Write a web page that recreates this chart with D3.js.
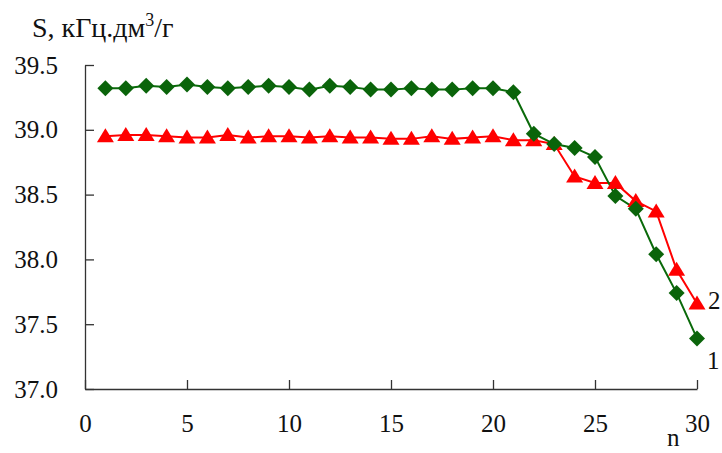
<!DOCTYPE html>
<html>
<head>
<meta charset="utf-8">
<script src="https://cdn.jsdelivr.net/npm/d3@7"></script>
<style>
  body { margin: 0; background: #fff; }
  .axis path, .axis line { stroke: #333; stroke-width: 1.3; }
</style>
</head>
<body>
<div id="chart"></div>
<script>
(function () {
    // data
    var nValues = d3.range(1, 31);
    var series1 = [39.32, 39.32, 39.34, 39.33, 39.35, 39.33, 39.32, 39.33, 39.34, 39.33,
                   39.31, 39.34, 39.33, 39.31, 39.31, 39.32, 39.31, 39.31, 39.32, 39.32,
                   39.29, 38.97, 38.89, 38.86, 38.79, 38.49, 38.39, 38.04, 37.74, 37.39];
    var series2 = [38.95, 38.96, 38.96, 38.95, 38.94, 38.94, 38.96, 38.94, 38.95, 38.95,
                   38.94, 38.95, 38.94, 38.94, 38.93, 38.93, 38.95, 38.93, 38.94, 38.95,
                   38.92, 38.92, 38.89, 38.64, 38.59, 38.59, 38.45, 38.37, 37.92, 37.66];
    var xTicks = [0, 5, 10, 15, 20, 25, 30];
    var yTicks = [37.0, 37.5, 38.0, 38.5, 39.0, 39.5];

    var FONT = "'Liberation Serif', 'Times New Roman', serif";

    var W = 722, H = 453;
    var margin = {top: 65, right: 25, bottom: 64, left: 85},
        width = W - margin.left - margin.right,
        height = H - margin.top - margin.bottom;

    var x = d3.scaleLinear().domain([0, 30]).range([0, width]);
    var y = d3.scaleLinear().domain([37, 39.5]).range([height, 0]);

    var svg = d3.select("#chart").append("svg")
        .attr("width", W)
        .attr("height", H)
        .style("font-family", FONT);

    var g = svg.append("g")
        .attr("transform", "translate(" + margin.left + "," + margin.top + ")");

    // x axis
    g.append("g")
        .attr("class", "axis")
        .attr("transform", "translate(0," + height + ")")
        .call(d3.axisBottom(x)
            .tickValues(xTicks)
            .tickSizeInner(-9)
            .tickSizeOuter(0)
            .tickPadding(25)
            .tickFormat(d3.format("d")))
        .attr("font-family", null)
        .selectAll("text")
        .style("font-family", FONT)
        .style("font-size", "25px")
        .attr("fill", "#111");

    // y axis
    g.append("g")
        .attr("class", "axis")
        .call(d3.axisLeft(y)
            .tickValues(yTicks)
            .tickSizeInner(-9)
            .tickSizeOuter(0)
            .tickPadding(27)
            .tickFormat(d3.format(".1f")))
        .attr("font-family", null)
        .selectAll("text")
        .style("font-family", FONT)
        .style("font-size", "25px")
        .attr("fill", "#111");

    var line = d3.line()
        .x(function (d, i) { return x(nValues[i]); })
        .y(function (d) { return y(d); });

    // series 2 (red triangles)
    g.append("path")
        .datum(series2)
        .attr("fill", "none")
        .attr("stroke", "#ff0000")
        .attr("stroke-width", 2)
        .attr("d", line);

    // series 1 (green diamonds)
    g.append("path")
        .datum(series1)
        .attr("fill", "none")
        .attr("stroke", "#0a6a0a")
        .attr("stroke-width", 2)
        .attr("d", line);

    g.selectAll(".tri")
        .data(series2)
        .enter().append("path")
        .attr("class", "tri")
        .attr("fill", "#ff0000")
        .attr("transform", function (d, i) {
            return "translate(" + x(nValues[i]) + "," + y(d) + ")";
        })
        .attr("d", "M0,-8L8.5,6L-8.5,6Z");

    g.selectAll(".dia")
        .data(series1)
        .enter().append("path")
        .attr("class", "dia")
        .attr("fill", "#0a640a")
        .attr("transform", function (d, i) {
            return "translate(" + x(nValues[i]) + "," + y(d) + ")";
        })
        .attr("d", "M0,-8L8,0L0,8L-8,0Z");

    // axis titles
    var title = svg.append("text")
        .attr("x", 32)
        .attr("y", 37)
        .attr("fill", "#111")
        .style("font-size", "28px");
    title.append("tspan").text("S, кГц.дм");
    title.append("tspan").attr("dy", -11).style("font-size", "18px").text("3");
    title.append("tspan").attr("dy", 11).text("/г");

    svg.append("text")
        .attr("x", 667)
        .attr("y", 446)
        .attr("fill", "#111")
        .style("font-size", "25px")
        .text("n");

    // series labels
    svg.append("text").attr("x", 707).attr("y", 369).attr("fill", "#111").style("font-size", "25px").text("1");
    svg.append("text").attr("x", 708).attr("y", 309).attr("fill", "#111").style("font-size", "25px").text("2");
}());
</script>
</body>
</html>
